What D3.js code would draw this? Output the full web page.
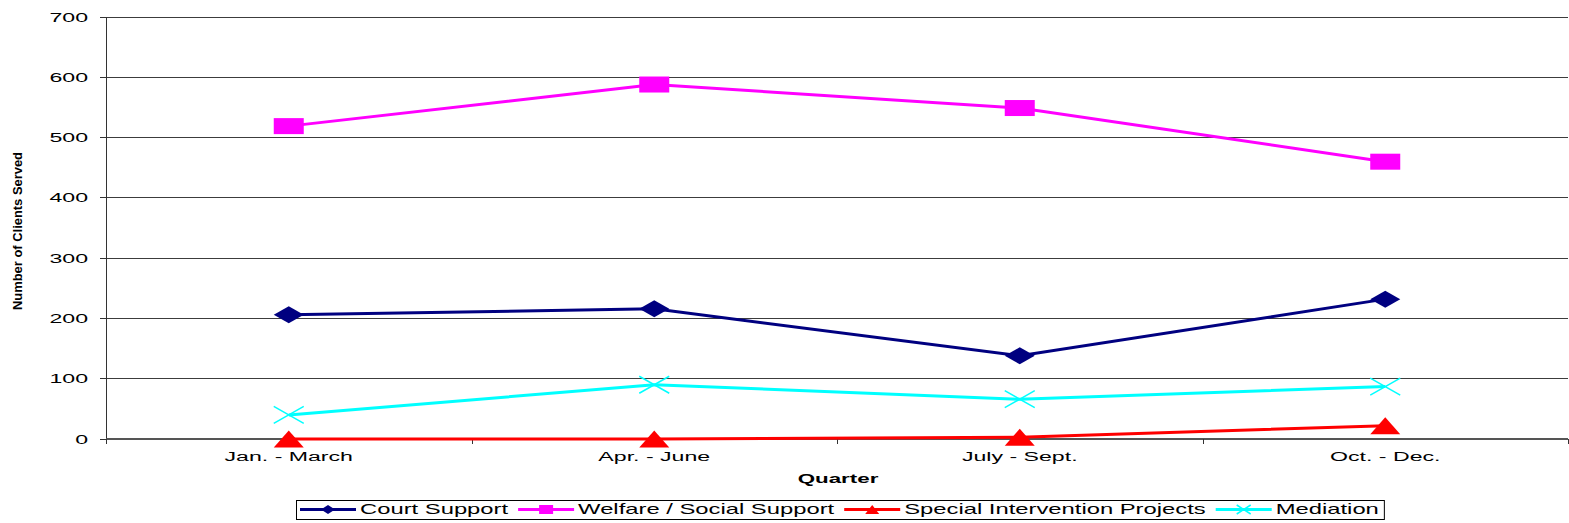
<!DOCTYPE html>
<html>
<head>
<meta charset="utf-8">
<script src="https://cdn.jsdelivr.net/npm/d3@7"></script>
<style>
  body { margin: 0; background: #fff; }
  svg { display: block; font-family: "Liberation Sans", Arial, sans-serif; }
</style>
</head>
<body>
<svg id="chart" width="1569" height="523"></svg>
<script>
// data
var quarters = ["Jan. - March", "Apr. - June", "July - Sept.", "Oct. - Dec."];
var courtSupport = [206, 216, 138, 232];
var welfareSupport = [519, 588, 549, 460];
var specialProjects = [0, 0, 3, 22];
var mediation = [40, 90, 66, 87];
var yTicks = [0, 100, 200, 300, 400, 500, 600, 700];

var series = [
    {name: "Court Support", values: courtSupport, color: "#000080", marker: "diamond"},
    {name: "Welfare / Social Support", values: welfareSupport, color: "#ff00ff", marker: "square"},
    {name: "Special Intervention Projects", values: specialProjects, color: "#ff0000", marker: "triangle"},
    {name: "Mediation", values: mediation, color: "#00ffff", marker: "cross"}
];

var svg = d3.select("#chart");
var plotLeft = 106, plotRight = 1568, plotTop = 17, plotBottom = 439;
var sx = 1.85; // the original picture is stretched sideways

var x = d3.scalePoint().domain(quarters).range([plotLeft, plotRight]).padding(0.5);
var y = d3.scaleLinear().domain([0, 700]).range([plotBottom, plotTop]);
var band = (plotRight - plotLeft) / quarters.length;

// stretched text helper
function stext(g, tx, ty, str, anchor, size, weight, stretch) {
    var t = g.append("g")
        .attr("transform", "translate(" + tx + "," + ty + ") scale(" + (stretch || sx) + ",1)")
        .append("text")
        .attr("text-anchor", anchor)
        .style("font-size", size + "px")
        .style("font-weight", weight || "normal")
        .attr("fill", "#000")
        .text(str);
    return t;
}

// gridlines
svg.append("g").selectAll("line").data(yTicks.filter(function (d) { return d > 0; }))
    .enter().append("line")
    .attr("x1", plotLeft).attr("x2", plotRight)
    .attr("y1", function (d) { return y(d); }).attr("y2", function (d) { return y(d); })
    .attr("stroke", "#3c3c3c").attr("stroke-width", 1)
    .attr("shape-rendering", "crispEdges");

// y axis
var ya = svg.append("g");
ya.append("line").attr("x1", plotLeft).attr("x2", plotLeft).attr("y1", plotTop).attr("y2", plotBottom)
    .attr("stroke", "#333").attr("shape-rendering", "crispEdges");
ya.selectAll("line.tk").data(yTicks).enter().append("line").attr("class", "tk")
    .attr("x1", plotLeft - 6).attr("x2", plotLeft)
    .attr("y1", function (d) { return y(d); }).attr("y2", function (d) { return y(d); })
    .attr("stroke", "#333").attr("shape-rendering", "crispEdges");
yTicks.forEach(function (d) {
    stext(ya, 88, y(d) + 4.5, d, "end", 12.5);
});

// x axis
var xa = svg.append("g");
xa.append("line").attr("x1", plotLeft).attr("x2", plotRight).attr("y1", plotBottom).attr("y2", plotBottom)
    .attr("stroke", "#555").attr("stroke-width", 2);
d3.range(quarters.length + 1).forEach(function (i) {
    var xx = Math.round(plotLeft + i * band) + 0.5;
    xa.append("line").attr("x1", xx).attr("x2", xx).attr("y1", plotBottom).attr("y2", plotBottom + 5)
        .attr("stroke", "#333");
});
quarters.forEach(function (q) {
    stext(xa, x(q), 461, q, "middle", 12.5);
});

// axis titles
stext(svg, 838, 483, "Quarter", "middle", 13, "bold", 1.72);
svg.append("text")
    .attr("transform", "translate(22,231) rotate(-90)")
    .attr("text-anchor", "middle")
    .attr("textLength", 158)
    .attr("lengthAdjust", "spacingAndGlyphs")
    .style("font-size", "13px")
    .style("font-weight", "bold")
    .text("Number of Clients Served");

// markers
function drawMarker(g, type, cx, cy, w, h, color) {
    if (type === "diamond") {
        g.append("path").attr("d", "M" + (cx - w / 2) + "," + cy + "L" + cx + "," + (cy - h / 2) +
            "L" + (cx + w / 2) + "," + cy + "L" + cx + "," + (cy + h / 2) + "Z").attr("fill", color);
    } else if (type === "square") {
        g.append("rect").attr("x", cx - w / 2).attr("y", cy - h / 2).attr("width", w).attr("height", h)
            .attr("fill", color);
    } else if (type === "triangle") {
        g.append("path").attr("d", "M" + (cx - w / 2) + "," + (cy + h / 2) + "L" + cx + "," + (cy - h / 2) +
            "L" + (cx + w / 2) + "," + (cy + h / 2) + "Z").attr("fill", color);
    } else {
        g.append("path").attr("d", "M" + (cx - w / 2) + "," + (cy - h / 2) + "L" + (cx + w / 2) + "," + (cy + h / 2) +
            "M" + (cx - w / 2) + "," + (cy + h / 2) + "L" + (cx + w / 2) + "," + (cy - h / 2))
            .attr("stroke", color).attr("stroke-width", 1.5).attr("fill", "none");
    }
}

// lines
var line = d3.line()
    .x(function (d, i) { return x(quarters[i]); })
    .y(function (d) { return y(d); });

series.forEach(function (s) {
    var g = svg.append("g");
    g.append("path").attr("d", line(s.values))
        .attr("fill", "none").attr("stroke", s.color).attr("stroke-width", 3);
    s.values.forEach(function (v, i) {
        drawMarker(g, s.marker, x(quarters[i]), y(v), 30, s.marker === "square" ? 16 : 17, s.color);
    });
});

// legend
var lg = svg.append("g");
var box = lg.append("rect").attr("y", 500.5).attr("height", 19)
    .attr("fill", "#fff").attr("stroke", "#000").attr("stroke-width", 1);
var lx = 300, lstretch = 1.7;
series.forEach(function (s) {
    lg.append("line").attr("x1", lx).attr("x2", lx + 56).attr("y1", 509.5).attr("y2", 509.5)
        .attr("stroke", s.color).attr("stroke-width", 3);
    drawMarker(lg, s.marker, lx + 28, 509.5, 14, 9, s.color);
    var t = stext(lg, lx + 60, 514, s.name, "start", 14, "normal", lstretch);
    lx += 60 + t.node().getComputedTextLength() * lstretch + 10;
});
box.attr("x", 296.5).attr("width", lx - 296 - 5);
</script>
</body>
</html>
